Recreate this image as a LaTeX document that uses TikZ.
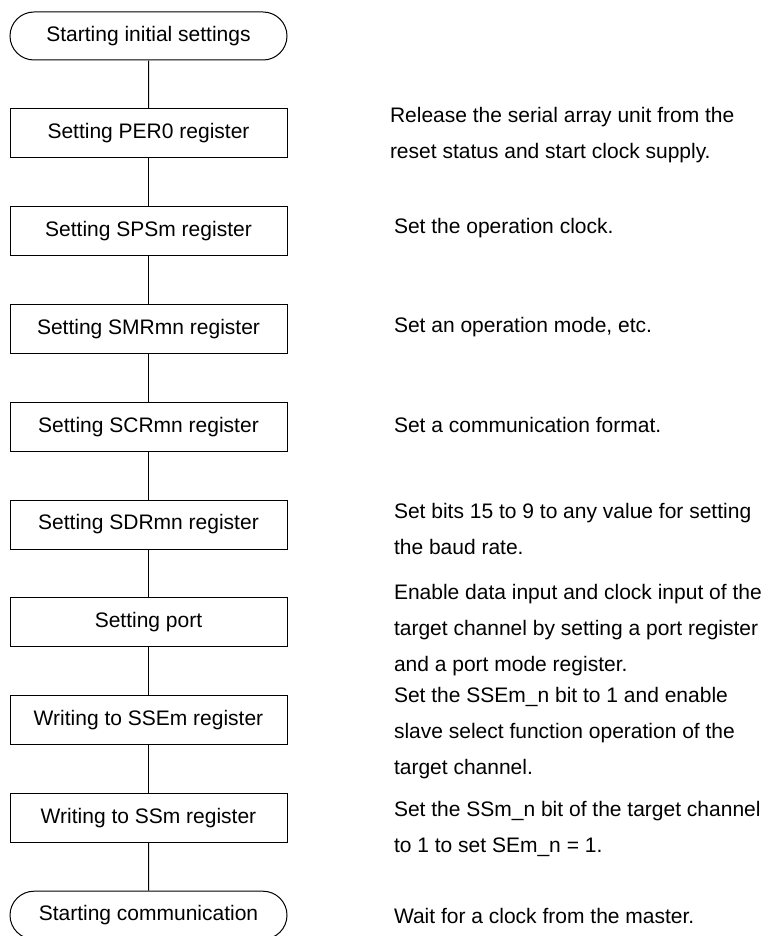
\documentclass[tikz,border=0pt]{standalone}
\usepackage{fontspec}
\setmainfont{Liberation Sans}
\usetikzlibrary{positioning, shapes.misc}

\begin{document}
\begin{tikzpicture}[
    node distance=23.9pt,
    line width=0.5pt,
    every node/.style={font=\fontsize{10.5pt}{18pt}\selectfont},
    box/.style={
      draw,
      rectangle,
      minimum width=138.5pt,
      minimum height=24.5pt,
      inner sep=0pt
    },
    terminal/.style={
      draw,
      rounded rectangle,
      minimum width=138.5pt,
      minimum height=24pt,
      inner sep=0pt
    },
    note/.style={
      align=left,
      inner sep=0pt
    }
  ]
  \useasboundingbox (0,0) rectangle (384pt,-468pt);

  % flow
  \node[terminal] (start) at (74.25pt,-18pt) {Starting initial settings};
  \node[box, below=of start] (per0) {Setting PER0 register};
  \node[box, below=of per0]  (spsm) {Setting SPSm register};
  \node[box, below=of spsm]  (smr)  {Setting SMRmn register};
  \node[box, below=of smr]   (scr)  {Setting SCRmn register};
  \node[box, below=of scr]   (sdr)  {Setting SDRmn register};
  \node[box, below=of sdr]   (port) {Setting port};
  \node[box, below=of port]  (sse)  {Writing to SSEm register};
  \node[box, below=of sse]   (ssm)  {Writing to SSm register};
  \node[terminal, below=of ssm] (comm) {Starting communication};

  \path[draw]
  (start) edge (per0)
  (per0)  edge (spsm)
  (spsm)  edge (smr)
  (smr)   edge (scr)
  (scr)   edge (sdr)
  (sdr)   edge (port)
  (port)  edge (sse)
  (sse)   edge (ssm)
  (ssm)   edge (comm);

  % notes
  \node[note, right=51pt of per0.east, yshift=-0.75pt] (nper0)
    {Release the serial array unit from the\\reset status and start clock supply.};
  \node[note, right=53pt of spsm.east, yshift=1.5pt] (nspsm)
    {Set the operation clock.};
  \node[note, right=53pt of smr.east, yshift=1pt] (nsmr)
    {Set an operation mode, etc.};
  \node[note, right=53pt of scr.east, yshift=1pt] (nscr)
    {Set a communication format.};
  \node[note, right=53pt of sdr.east, yshift=-2pt] (nsdr)
    {Set bits 15 to 9 to any value for setting\\the baud rate.};
  \node[note, right=53pt of port.east, yshift=-4pt] (nport)
    {Enable data input and clock input of the\\target channel by setting a port register\\and a port mode register.};
  \node[note, right=53pt of sse.east, yshift=-6.5pt] (nsse)
    {Set the SSEm\_n bit to 1 and enable\\slave select function operation of the\\target channel.};
  \node[note, right=53pt of ssm.east, yshift=-5.5pt] (nssm)
    {Set the SSm\_n bit of the target channel\\to 1 to set SEm\_n = 1.};
  \node[note, right=53pt of comm.east, yshift=-0.5pt] (ncomm)
    {Wait for a clock from the master.};
\end{tikzpicture}
\end{document}
